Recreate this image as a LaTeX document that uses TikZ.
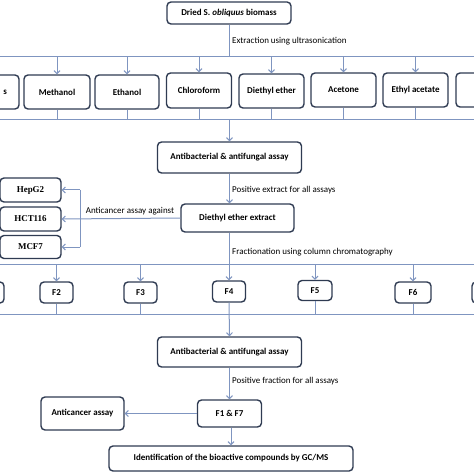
\documentclass[tikz,border=0pt]{standalone}
\usepackage{fontspec}
\setmainfont{Carlito}
\newfontfamily\serifb{Liberation Serif}
\usetikzlibrary{arrows.meta}
\definecolor{boxc}{HTML}{2F3B52}
\definecolor{linec}{HTML}{7F95C0}
\begin{document}
\begin{tikzpicture}[x=1bp,y=-1bp,
 box/.style={draw=boxc,line width=1.4bp,rounded corners=4bp,fill=white,font=\fontsize{9}{10}\selectfont\bfseries,inner sep=0pt,align=center},
 sbox/.style={box,font=\fontsize{9}{10}\selectfont\serifb\bfseries},
 conn/.style={draw=linec,line width=1bp},
 arr/.style={conn,-{Straight Barb[length=3bp,width=6bp]}},
 lab/.style={font=\fontsize{9}{10}\selectfont,anchor=west,inner sep=0pt}]
\useasboundingbox (0,0) rectangle (474,474);
\clip (0,0) rectangle (474,474);
% bus coordinates
\coordinate (b1) at (0,57);
\coordinate (b2) at (0,120);
\coordinate (b3) at (0,264);
\coordinate (b4) at (0,314);
\coordinate (v) at (80,0);
% top
\node[box,minimum width=124bp,minimum height=22bp] (top) at (229,13) {Dried S. \textit{obliquus} biomass};
% solvents
\node[box,minimum width=66bp,minimum height=34bp,text width=42bp,align=right] (s0) at (-14,92) {s};
\node[box,minimum width=66bp,minimum height=34bp] (meth) at (57,92) {Methanol};
\node[box,minimum width=64bp,minimum height=34bp] (eth) at (127,92) {Ethanol};
\node[box,minimum width=65bp,minimum height=35bp] (chl) at (199,90.5) {Chloroform};
\node[box,minimum width=65bp,minimum height=34bp] (die) at (271.5,91) {Diethyl ether};
\node[box,minimum width=65bp,minimum height=34bp] (ace) at (343.5,90) {Acetone};
\node[box,minimum width=65bp,minimum height=34bp] (eta) at (415.5,90) {Ethyl acetate};
\node[box,minimum width=66bp,minimum height=34bp] (r0) at (489,90) {};
\draw[conn] (top.south) -- (top.south |- b1);
\draw[conn] (-10,57) -- (484,57);
\foreach \n in {s0,meth,eth,chl,die,ace,eta,r0}{
  \draw[arr] (\n.north |- b1) -- (\n.north);
  \draw[conn] (\n.south) -- (\n.south |- b2);
}
\draw[conn] (-10,120) -- (484,120);
\node[lab] (l1) at (232,41) {Extraction using ultrasonication};
% assay 1
\node[box,minimum width=144bp,minimum height=31bp] (ab1) at (229.5,157.5) {Antibacterial \& antifungal assay};
\draw[arr] (ab1.north |- b2) -- (ab1.north);
\node[box,minimum width=113bp,minimum height=28bp] (dee) at (237.5,218) {Diethyl ether extract};
\draw[arr] (ab1.south) -- (ab1.south |- dee.north);
\node[lab] (l2) at (232,190) {Positive extract for all assays};
% cancer lines
\node[sbox,minimum width=61bp,minimum height=24bp] (hep) at (30.5,190) {HepG2};
\node[sbox,minimum width=61bp,minimum height=24bp] (hct) at (30.5,219) {HCT116};
\node[sbox,minimum width=61bp,minimum height=23bp] (mcf) at (30.5,247) {MCF7};
\draw[arr] (dee.west) -- (hct.east);
\draw[arr] (hep.east -| v) -- (hep.east);
\draw[arr] (mcf.east -| v) -- (mcf.east);
\draw[conn] (hep.east -| v) -- (mcf.east -| v);
\node[lab,anchor=center] (l3) at (130,211) {Anticancer assay against};
% fractions
\node[box,minimum width=33bp,minimum height=21bp] (f1) at (-12.5,292.5) {};
\node[box,minimum width=33bp,minimum height=21bp] (f2) at (56.5,292.5) {F2};
\node[box,minimum width=33bp,minimum height=21bp] (f3) at (140.5,292.5) {F3};
\node[box,minimum width=33bp,minimum height=21bp] (f4) at (229,291.5) {F4};
\node[box,minimum width=34bp,minimum height=20bp] (f5) at (315,290.5) {F5};
\node[box,minimum width=36bp,minimum height=21bp] (f6) at (413,292.5) {F6};
\node[box,minimum width=33bp,minimum height=21bp] (f7) at (488.5,292.5) {};
\draw[conn] (-10,264) -- (484,264);
\draw[arr] (dee.south -| f4.north) -- (f4.north);
\node[lab] (l4) at (232,252) {Fractionation using column chromatography};
\foreach \n in {f1,f2,f3,f5,f6,f7}{
  \draw[arr] (\n.north |- b3) -- (\n.north);
  \draw[conn] (\n.south) -- (\n.south |- b4);
}
\draw[conn] (-10,314) -- (484,314);
\node[box,minimum width=144bp,minimum height=30bp] (ab2) at (229.5,352) {Antibacterial \& antifungal assay};
\draw[arr] (f4.south) -- (ab2.north);
\node[box,minimum width=64bp,minimum height=27bp] (f17) at (229.5,413.5) {F1 \& F7};
\draw[arr] (ab2.south) -- (f17.north);
\node[lab] (l5) at (232,381) {Positive fraction for all assays};
\node[box,minimum width=83bp,minimum height=33bp] (anti) at (82.5,413.5) {Anticancer assay};
\draw[arr] (f17.west) -- (anti.east);
\node[box,minimum width=244bp,minimum height=25bp] (ident) at (231,458.5) {Identification of the bioactive compounds by GC/MS};
\draw[arr] (f17.south -| ident.north) -- (ident.north);
\end{tikzpicture}
\end{document}
